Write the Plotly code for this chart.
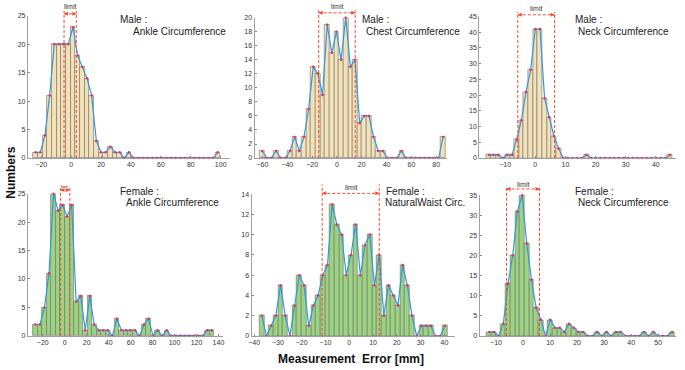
import plotly.graph_objects as go

W, H = 685, 370

# ---------------- data (histogram counts, 40 bins each) ----------------
male_ankle_counts = [1, 1, 4, 11, 20, 20, 20, 20, 23, 18, 16, 14, 11, 3, 1, 1, 2, 1, 1, 0,
                     1, 0, 0, 0, 0, 0, 0, 0, 0, 0, 0, 0, 0, 0, 0, 0, 0, 0, 0, 1]
male_ankle_bins = (-23.8, 98.0)          # first / last bin centre
male_ankle_limit = (-4.8, 3.4)

male_chest_counts = [1, 0, 0, 1, 0, 0, 1, 3, 1, 3, 7, 13, 12, 9, 19, 15, 18, 14, 20, 13,
                     14, 5, 6, 6, 3, 1, 1, 0, 0, 0, 1, 0, 0, 0, 0, 0, 0, 0, 0, 3]
male_chest_bins = (-60.2, 85.6)
male_chest_limit = (-14.7, 14.7)

male_neck_counts = [1, 1, 1, 0, 1, 1, 6, 12, 21, 28, 41, 41, 19, 13, 7, 3, 0, 0, 0, 0,
                    0, 1, 0, 0, 0, 0, 0, 0, 0, 0, 0, 0, 0, 0, 0, 0, 0, 0, 0, 1]
male_neck_bins = (-15.4, 44.7)
male_neck_limit = (-5.8, 6.4)

female_ankle_counts = [2, 2, 5, 11, 25, 22, 23, 21, 23, 6, 7, 1, 7, 2, 1, 1, 1, 0, 3, 1,
                       1, 1, 1, 0, 2, 3, 0, 1, 0, 1, 0, 0, 0, 0, 0, 0, 0, 0, 1, 1]
female_ankle_bins = (-26.7, 134.0)
female_ankle_limit = (-3.8, 4.6)

female_waist_counts = [2, 0, 1, 2, 5, 2, 0, 3, 6, 5, 1, 3, 4, 6, 7, 13, 11, 10, 6, 8,
                       11, 6, 9, 10, 5, 8, 2, 5, 4, 3, 7, 5, 2, 0, 1, 1, 1, 0, 0, 1]
female_waist_bins = (-36.8, 40.2)
female_waist_limit = (-11.4, 12.6)

female_neck_counts = [1, 1, 0, 3, 13, 20, 31, 35, 23, 14, 7, 4, 0, 4, 2, 2, 1, 3, 2, 1,
                      1, 0, 0, 1, 0, 1, 0, 1, 1, 0, 0, 0, 0, 1, 0, 1, 0, 0, 0, 1]
female_neck_bins = (-12.5, 55.2)
female_neck_limit = (-6.1, 6.1)

titles = [("Male :", "Ankle Circumference"), ("Male :", "Chest Circumference"),
          ("Male :", "Neck Circumference"), ("Female :", "Ankle Circumference"),
          ("Female :", "NaturalWaist Circ."), ("Female :", "Neck Circumference")]

x_ticks = [[-20, 0, 20, 40, 60, 80, 100], [-60, -40, -20, 0, 20, 40, 60, 80],
           [-10, 0, 10, 20, 30, 40], [-20, 0, 20, 40, 60, 80, 100, 120, 140],
           [-40, -30, -20, -10, 0, 10, 20, 30, 40], [-10, 0, 10, 20, 30, 40, 50]]
y_ticks = [[0, 5, 10, 15, 20, 25], list(range(0, 21, 2)), list(range(0, 46, 5)),
           [0, 5, 10, 15, 20, 25], list(range(0, 15, 2)), list(range(0, 36, 5))]

MALE_FILL = "#F4E2B6"
FEMALE_FILL = "#9BD381"
LINE_BLUE = "#3596DA"
DOT_RED = "#E0336A"
LIM_RED = "#F84A2C"

# ---------------- layout config (pixel geometry) ----------------
panels = [
    dict(counts=male_ankle_counts, bins=male_ankle_bins, lim=male_ankle_limit, fill=MALE_FILL,
         px=(25, 228), py=(12, 157), xr=[-29, 106], yr=[0, 25],
         t1=(116, 16), t2=(129, 28), ltxt=3, larr=10, ltop=7, lfs=7),
    dict(counts=male_chest_counts, bins=male_chest_bins, lim=male_chest_limit, fill=MALE_FILL,
         px=(253, 447), py=(14, 157), xr=[-66.4, 89], yr=[0, 20],
         t1=(359, 16), t2=(363, 28), ltxt=3, larr=9, ltop=6, lfs=7),
    dict(counts=male_neck_counts, bins=male_neck_bins, lim=male_neck_limit, fill=MALE_FILL,
         px=(479, 677), py=(12.7, 157), xr=[-18.6, 46.7], yr=[0, 45],
         t1=(573, 16), t2=(576, 28), ltxt=5, larr=11, ltop=8, lfs=7),
    dict(counts=female_ankle_counts, bins=female_ankle_bins, lim=female_ankle_limit, fill=FEMALE_FILL,
         px=(25, 221.7), py=(193.3, 338.3), xr=[-33.6, 144.5], yr=[0, 25],
         t1=(116, 191), t2=(122, 202), ltxt=186, larr=189.5, ltop=185, lfs=4),
    dict(counts=female_waist_counts, bins=female_waist_bins, lim=female_waist_limit, fill=FEMALE_FILL,
         px=(250, 455), py=(194, 338.3), xr=[-41.1, 44.6], yr=[0, 14],
         t1=(383, 191), t2=(382, 202), ltxt=187, larr=193, ltop=184, lfs=7),
    dict(counts=female_neck_counts, bins=female_neck_bins, lim=female_neck_limit, fill=FEMALE_FILL,
         px=(479.3, 676.7), py=(195, 338.3), xr=[-16.1, 56.5], yr=[0, 35],
         t1=(573, 191), t2=(576, 202), ltxt=184, larr=188.5, ltop=185, lfs=7),
]

FONT = "Liberation Sans, Arial, Helvetica, sans-serif"


def px2x(v):
    return v / W


def px2y(v):
    return 1 - v / H


fig = go.Figure()
shapes, annotations = [], []
layout_axes = {}

for i, p in enumerate(panels):
    n = i + 1
    xa = "x" if n == 1 else f"x{n}"
    ya = "y" if n == 1 else f"y{n}"
    counts = p["counts"]
    first, last = p["bins"]
    width = (last - first) / (len(counts) - 1)
    centers = [first + k * width for k in range(len(counts))]

    fig.add_trace(go.Bar(x=centers, y=counts, width=width, xaxis=xa, yaxis=ya,
                         marker=dict(color=p["fill"], line=dict(color="#707070", width=0.6)),
                         showlegend=False, hoverinfo="x+y"))
    fig.add_trace(go.Scatter(x=centers, y=counts, xaxis=xa, yaxis=ya, mode="lines+markers",
                             line=dict(color=LINE_BLUE, width=1.2),
                             marker=dict(color=DOT_RED, size=2.5),
                             showlegend=False, cliponaxis=False))

    axkey_x = "xaxis" if n == 1 else f"xaxis{n}"
    axkey_y = "yaxis" if n == 1 else f"yaxis{n}"
    layout_axes[axkey_x] = dict(domain=[px2x(p["px"][0]), px2x(p["px"][1])], anchor=ya,
                                range=p["xr"], tickvals=x_ticks[i], showgrid=False, zeroline=False,
                                showline=True, linecolor="#a0a0a0", linewidth=1,
                                ticks="inside", ticklen=2, tickcolor="#888",
                                tickfont=dict(size=7, color="#333", family=FONT))
    layout_axes[axkey_y] = dict(domain=[px2y(p["py"][1]), px2y(p["py"][0])], anchor=xa,
                                range=p["yr"], tickvals=y_ticks[i], showgrid=False, zeroline=False,
                                showline=True, linecolor="#a0a0a0", linewidth=1,
                                ticks="inside", ticklen=2, tickcolor="#888",
                                tickfont=dict(size=7, color="#333", family=FONT))

    lo, hi = p["lim"]
    ybot = px2y(p["py"][1])
    for lv in (lo, hi):
        shapes.append(dict(type="line", xref=xa, yref="paper", x0=lv, x1=lv,
                           y0=ybot, y1=px2y(p["ltop"]),
                           line=dict(color=LIM_RED, width=1, dash="3px,2px")))
    shapes.append(dict(type="line", xref=xa, yref="paper", x0=lo, x1=hi,
                       y0=px2y(p["larr"]), y1=px2y(p["larr"]),
                       line=dict(color=LIM_RED, width=1, dash="3px,2px")))
    for lv, axo in ((hi, -4), (lo, 4)):
        annotations.append(dict(x=lv, y=px2y(p["larr"]), xref=xa, yref="paper", text="",
                                showarrow=True, ax=axo, ay=0, arrowhead=2, arrowsize=0.8,
                                arrowwidth=1, arrowcolor=LIM_RED))
    annotations.append(dict(x=(lo + hi) / 2, y=px2y(p["ltxt"]), xref=xa, yref="paper",
                            text="limit", showarrow=False, xanchor="center", yanchor="middle",
                            font=dict(size=p["lfs"], color="#333", family=FONT)))

    t1, t2 = titles[i]
    annotations.append(dict(x=px2x(p["t1"][0]), y=px2y(p["t1"][1]), xref="paper", yref="paper",
                            text=t1, showarrow=False, xanchor="left", yanchor="middle",
                            font=dict(size=10, color="#222", family=FONT)))
    annotations.append(dict(x=px2x(p["t2"][0]), y=px2y(p["t2"][1]), xref="paper", yref="paper",
                            text=t2, showarrow=False, xanchor="left", yanchor="middle",
                            font=dict(size=10, color="#222", family=FONT)))

annotations.append(dict(x=px2x(8), y=px2y(172), xref="paper", yref="paper", text="<b>Numbers</b>",
                        textangle=-90, showarrow=False, xanchor="center", yanchor="middle",
                        font=dict(size=12, color="#111", family=FONT)))
annotations.append(dict(x=px2x(350), y=px2y(362), xref="paper", yref="paper",
                        text="<b>Measurement  Error [mm]</b>", showarrow=False,
                        xanchor="center", yanchor="middle",
                        font=dict(size=12, color="#111", family=FONT)))

fig.update_layout(width=W, height=H, margin=dict(l=0, r=0, t=0, b=0),
                  paper_bgcolor="white", plot_bgcolor="white", bargap=0,
                  shapes=shapes, annotations=annotations, font=dict(family=FONT),
                  **layout_axes)

fig.write_html("out.html", config={"displayModeBar": False},
               post_script="document.body.style.margin='0';document.body.style.padding='0';")
